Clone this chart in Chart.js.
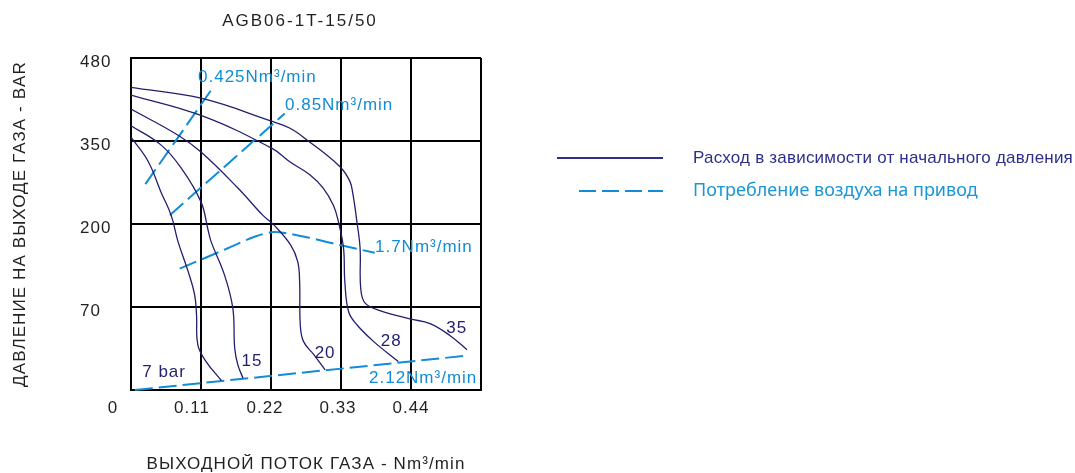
<!DOCTYPE html>
<html>
<head>
<meta charset="utf-8">
<script src="https://cdn.jsdelivr.net/npm/chart.js@4/dist/chart.umd.min.js"></script>
<style>
html,body{margin:0;padding:0;background:#fff;}
#wrap{width:1075px;height:473px;position:relative;}
</style>
</head>
<body>
<div id="wrap"><canvas id="c"></canvas></div>
<script>
// ---- data (flow in Nm³/min, pressure in bar) ----
const chartTitle = 'AGB06-1T-15/50';
const xTitle = 'ВЫХОДНОЙ ПОТОК ГАЗА - Nm³/min';
const yTitle = 'ДАВЛЕНИЕ НА ВЫХОДЕ ГАЗА - BAR';
const xTicks = [0, 0.11, 0.22, 0.33, 0.44, 0.55];
const xTickLabels = ['0', '0.11', '0.22', '0.33', '0.44', ''];
const yTicks = [0, 70, 200, 350, 480];
const legendLabels = ['Расход в зависимости от начального давления', 'Потребление воздуха на привод'];

const flow7  = [0, 0.027, 0.047, 0.063, 0.074, 0.090, 0.100, 0.103, 0.105, 0.118, 0.142];
const bar7   = [356, 313, 258, 216, 172, 125, 89, 63, 38, 24, 8];
const flow15 = [0, 0.047, 0.079, 0.110, 0.121, 0.126, 0.147, 0.160, 0.163, 0.168, 0.176];
const bar15  = [374, 343, 301, 240, 191, 172, 120, 69, 35, 21, 10];
const flow20 = [0, 0.074, 0.110, 0.168, 0.207, 0.226, 0.251, 0.262, 0.265, 0.266, 0.271, 0.287, 0.305];
const bar20  = [400, 359, 330, 265, 216, 197, 167, 141, 109, 55, 41, 30, 17];
const flow28 = [0, 0.110, 0.221, 0.250, 0.281, 0.302, 0.318, 0.326, 0.334, 0.336, 0.342, 0.355, 0.381, 0.420];
const bar28  = [422, 390, 337, 312, 289, 265, 234, 204, 162, 110, 66, 55, 41, 24];
const flow35 = [0, 0.110, 0.221, 0.250, 0.276, 0.328, 0.344, 0.349, 0.355, 0.360, 0.361, 0.368, 0.391, 0.438, 0.470, 0.501, 0.528];
const bar35  = [434, 417, 381, 370, 352, 304, 277, 252, 204, 162, 99, 76, 67, 60, 56, 46, 34];

const airFlow0425 = [0.0225, 0.129];
const airBar0425  = [272, 434];
const airFlow085  = [0.061, 0.2415];
const airBar085   = [216, 393];
const airFlow17   = [0.0765, 0.152, 0.194, 0.2205, 0.2415, 0.278, 0.328, 0.383];
const airBar17    = [130, 162, 180, 187, 186, 179, 167, 155];
const airFlow212  = [0.006, 0.528];
const airBar212   = [0, 29];

const curveLabels = ['7 bar', '15', '20', '28', '35'];
const curveLabelFlow = [0.052, 0.190, 0.305, 0.409, 0.512];
const curveLabelBar  = [15, 24.5, 31, 41, 52];
const airLabels = ['0.425Nm³/min', '0.85Nm³/min', '1.7Nm³/min', '2.12Nm³/min'];
const airLabelFlow = [0.1053, 0.242, 0.3834, 0.374];
const airLabelBar  = [449, 406, 164, 10];

// ---- piecewise pressure scale (equal spacing between tick values) ----
function toIndex(v) {
  for (let i = 0; i < yTicks.length - 1; i++) {
    if (v <= yTicks[i + 1] || i === yTicks.length - 2) {
      return i + (v - yTicks[i]) / (yTicks[i + 1] - yTicks[i]);
    }
  }
  return 0;
}
function fromIndex(u) {
  const i = Math.max(0, Math.min(yTicks.length - 2, Math.floor(u)));
  return yTicks[i] + (u - i) * (yTicks[i + 1] - yTicks[i]);
}
class PiecewiseScale extends Chart.LinearScale {
  determineDataLimits() { this.min = 0; this.max = yTicks.length - 1; }
  buildTicks() { return yTicks.map(v => ({ value: v })); }
  getPixelForValue(v) { return v === null ? NaN : super.getPixelForValue(toIndex(v)); }
  getValueForPixel(p) { return fromIndex(super.getValueForPixel(p)); }
}
PiecewiseScale.id = 'piecewise';
PiecewiseScale.defaults = Chart.LinearScale.defaults;
Chart.register(PiecewiseScale);

const NAVY = '#221f6e';
const BLUE = '#128cd6';
const DARK = '#231f20';
const FONT = '"Liberation Sans", Arial, sans-serif';

function pts(xs, ys) { return xs.map((x, i) => ({ x: x, y: ys[i] })); }
function curve(xs, ys) {
  return { data: pts(xs, ys), borderColor: NAVY, borderWidth: 1.3, pointRadius: 0, tension: 0.4, fill: false };
}
function air(xs, ys, t) {
  return { data: pts(xs, ys), borderColor: BLUE, borderWidth: 2, borderDash: [18, 6], pointRadius: 0, tension: t, fill: false };
}

const spacingPlugin = {
  id: 'spacing',
  beforeDraw(chart) { chart.ctx.letterSpacing = '1.1px'; }
};

const textPlugin = {
  id: 'texts',
  afterDraw(chart) {
    const { ctx, scales: { x, y }, chartArea } = chart;
    ctx.save();
    // title
    ctx.font = '17px ' + FONT;
    ctx.fillStyle = DARK;
    ctx.textAlign = 'center';
    ctx.textBaseline = 'middle';
    ctx.letterSpacing = '2px';
    ctx.fillText(chartTitle, 300, 21);
    ctx.letterSpacing = '1px';
    // x tick labels
    const xOff = [-18, -9, -6, -3, 0];
    xTickLabels.forEach((t, i) => {
      if (!t) return;
      ctx.fillText(t, x.getPixelForValue(xTicks[i]) + xOff[i], chartArea.bottom + 18);
    });
    // curve labels
    ctx.fillStyle = NAVY;
    curveLabels.forEach((t, i) => {
      ctx.fillText(t, x.getPixelForValue(curveLabelFlow[i]), y.getPixelForValue(curveLabelBar[i]));
    });
    // air consumption labels
    ctx.fillStyle = BLUE;
    ctx.textAlign = 'left';
    airLabels.forEach((t, i) => {
      ctx.fillText(t, x.getPixelForValue(airLabelFlow[i]), y.getPixelForValue(airLabelBar[i]));
    });
    // legend
    ctx.lineWidth = 2;
    ctx.strokeStyle = '#2e2f8a';
    ctx.beginPath(); ctx.moveTo(557, 158); ctx.lineTo(663, 158); ctx.stroke();
    ctx.strokeStyle = BLUE;
    ctx.setLineDash([17, 6]);
    ctx.beginPath(); ctx.moveTo(579, 191); ctx.lineTo(663, 191); ctx.stroke();
    ctx.setLineDash([]);
    ctx.font = '17px ' + FONT;
    ctx.letterSpacing = '0.2px';
    ctx.fillStyle = '#2e2f8a';
    ctx.fillText(legendLabels[0], 693, 158);
    ctx.font = '18px "Noto Sans", sans-serif';
    ctx.letterSpacing = '0px';
    ctx.fillStyle = '#1a96d6';
    ctx.fillText(legendLabels[1], 693, 191);
    ctx.restore();
  }
};

new Chart(document.getElementById('c'), {
  type: 'line',
  data: {
    datasets: [
      curve(flow7, bar7), curve(flow15, bar15), curve(flow20, bar20), curve(flow28, bar28), curve(flow35, bar35),
      air(airFlow0425, airBar0425, 0), air(airFlow085, airBar085, 0), air(airFlow17, airBar17, 0.3), air(airFlow212, airBar212, 0)
    ]
  },
  options: {
    responsive: true,
    maintainAspectRatio: false,
    animation: false,
    layout: { padding: { top: 58, right: 594, bottom: 0, left: 0 } },
    plugins: { legend: { display: false }, title: { display: false }, tooltip: { enabled: false } },
    scales: {
      x: {
        type: 'linear', position: 'bottom', min: 0, max: 0.55,
        afterBuildTicks: s => { s.ticks = xTicks.map(v => ({ value: v })); },
        afterFit: s => { s.height = 83; },
        grid: { color: '#000', lineWidth: 2, drawTicks: false },
        border: { color: '#000', width: 2 },
        ticks: { display: false },
        title: { display: true, text: xTitle, color: DARK, font: { family: FONT, size: 17, lineHeight: 1 }, padding: { top: 0, bottom: 0 } }
      },
      y: {
        type: 'piecewise', position: 'left', weight: 0,
        afterFit: s => { s.width = 51; },
        grid: { color: '#000', lineWidth: 2, drawTicks: false },
        border: { color: '#000', width: 2 },
        ticks: { crossAlign: 'far', labelOffset: 4, color: DARK, font: { family: FONT, size: 17 }, callback: v => (v === 0 ? '' : String(v)) }
      },
      yTitle: {
        type: 'linear', position: 'left', weight: 10, display: true,
        afterFit: s => { s.width = 80; },
        grid: { display: false }, border: { display: false }, ticks: { display: false },
        title: { display: true, text: yTitle, color: DARK, font: { family: FONT, size: 17, lineHeight: 1.2 }, padding: { top: 10, bottom: 0 } }
      }
    }
  },
  plugins: [spacingPlugin, textPlugin]
});
</script>
</body>
</html>
